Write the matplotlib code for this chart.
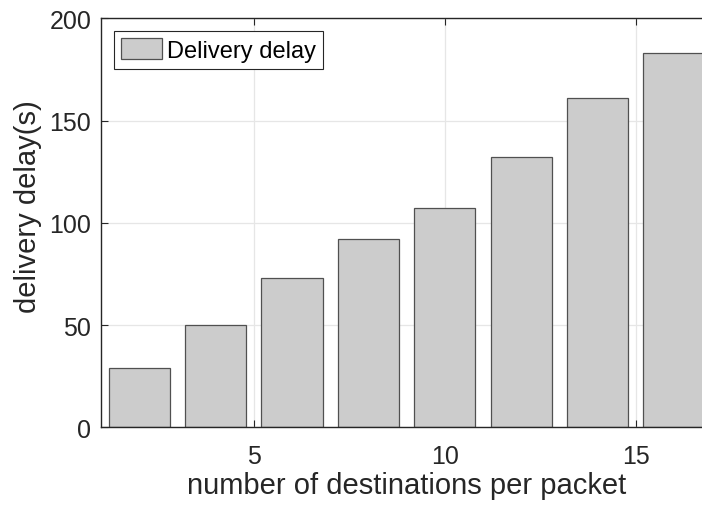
import numpy as np
import matplotlib.pyplot as plt

plt.rcParams['font.family'] = ['Liberation Sans', 'DejaVu Sans']

# destinations per packet and measured delay
destinations = np.array([2, 4, 6, 8, 10, 12, 14, 16])
delay = np.array([29, 50, 73, 92, 107, 132, 161, 183])
xticks = [5, 10, 15]
yticks = [0, 50, 100, 150, 200]

fig = plt.figure(figsize=(7.02, 5.06), dpi=100)
ax = fig.add_axes([0.1439, 0.1536, 0.8707, 0.8083])

ax.bar(destinations, delay, width=1.6, color='#cccccc', edgecolor='#505050',
       linewidth=0.9, label='Delivery delay', zorder=2)

ax.set_xlim(1, 17)
ax.set_ylim(0, 200)
ax.set_xticks(xticks)
ax.set_yticks(yticks)
ax.set_axisbelow(True)
ax.grid(True, color='#e6e6e6', linewidth=0.9)

for s in ax.spines.values():
    s.set_color('#262626')
    s.set_linewidth(1.0)
ax.tick_params(direction='in', length=5, width=0.8, color='#262626',
               labelcolor='#262626', labelsize=18, top=True, right=True)
ax.tick_params(axis='x', pad=12)
ax.tick_params(axis='y', pad=7)

ax.set_xlabel('number of destinations per packet', fontsize=21, color='#262626', labelpad=2)
ax.set_ylabel('delivery delay(s)', fontsize=21, color='#262626')
ax.yaxis.set_label_coords(-0.097, 0.542)

leg = ax.legend(loc='upper left', fontsize=17, fancybox=False, framealpha=1,
                edgecolor='#262626', borderaxespad=0.55, handlelength=1.75,
                handleheight=1.0, handletextpad=0.2, borderpad=0.3)
leg.get_frame().set_linewidth(0.8)

fig.savefig('out.png', dpi=100)
